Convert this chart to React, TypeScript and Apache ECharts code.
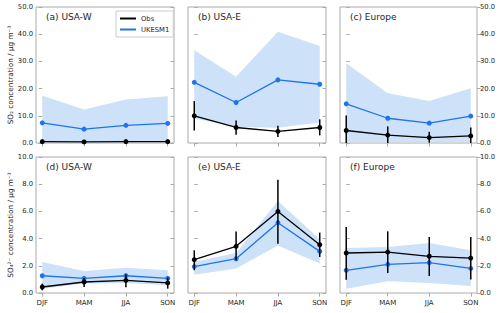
import React, { useEffect, useRef } from "react";
import * as echarts from "echarts";

const seasons = ["DJF", "MAM", "JJA", "SON"];
const panelTitles = ["(a) USA-W", "(b) USA-E", "(c) Europe", "(d) USA-W", "(e) USA-E", "(f) Europe"];
const so2Ticks = [0, 10, 20, 30, 40, 50];
const so4Ticks = [0, 2, 4, 6, 8, 10];

// SO2 (top row)
const so2ObsUSAW = [0.5, 0.4, 0.5, 0.5];
const so2ObsLoUSAW = [0.3, 0.2, 0.3, 0.3];
const so2ObsHiUSAW = [0.8, 0.6, 0.8, 0.7];
const so2ModUSAW = [7.4, 5.1, 6.5, 7.2];
const so2ModLoUSAW = [0.3, 0.2, 0.3, 0.3];
const so2ModHiUSAW = [17.4, 12.3, 16.0, 17.2];

const so2ObsUSAE = [10.0, 5.7, 4.3, 5.7];
const so2ObsLoUSAE = [4.6, 3.0, 2.2, 2.8];
const so2ObsHiUSAE = [15.4, 8.3, 6.3, 8.7];
const so2ModUSAE = [22.3, 14.9, 23.2, 21.6];
const so2ModLoUSAE = [9.0, 6.0, 5.6, 7.5];
const so2ModHiUSAE = [34.1, 24.4, 40.9, 35.7];

const so2ObsEU = [4.6, 2.9, 2.0, 2.6];
const so2ObsLoEU = [0, 0, 0.1, 0];
const so2ObsHiEU = [10.1, 6.1, 4.1, 5.7];
const so2ModEU = [14.4, 9.1, 7.3, 9.9];
const so2ModLoEU = [0.3, 0.3, 0.3, 0.3];
const so2ModHiEU = [29.3, 18.3, 15.4, 20.1];

// SO4 (bottom row)
const so4ObsUSAW = [0.44, 0.81, 0.93, 0.74];
const so4ObsLoUSAW = [0.2, 0.44, 0.42, 0.32];
const so4ObsHiUSAW = [0.69, 1.1, 1.37, 1.13];
const so4ModUSAW = [1.27, 1.08, 1.27, 1.08];
const so4ModLoUSAW = [0.32, 0.69, 0.74, 0.57];
const so4ModHiUSAW = [2.28, 1.62, 1.85, 1.67];

const so4ObsUSAE = [2.45, 3.43, 6.0, 3.55];
const so4ObsLoUSAE = [1.67, 2.4, 3.63, 2.65];
const so4ObsHiUSAE = [3.14, 4.53, 8.33, 4.44];
const so4ModUSAE = [1.94, 2.52, 5.17, 3.06];
const so4ModLoUSAE = [1.35, 1.8, 3.5, 2.16];
const so4ModHiUSAE = [2.3, 2.95, 6.76, 3.95];

const so4ObsEU = [2.94, 3.01, 2.7, 2.57];
const so4ObsLoEU = [0.98, 1.47, 1.25, 1.0];
const so4ObsHiEU = [4.85, 4.53, 4.12, 4.12];
const so4ModEU = [1.67, 2.1, 2.23, 1.81];
const so4ModLoEU = [0.32, 0.86, 0.74, 0.52];
const so4ModHiEU = [3.3, 3.38, 3.68, 3.14];

const BLUE = "#1f74ec";
const BAND = "#cde1f8";
const FRAME = "#aaaaaa";
const TEXT = "#262626";
const FONT = "DejaVu Sans";

export default function App() {
  const ref = useRef<HTMLDivElement>(null);
  useEffect(() => {
    if (!ref.current) return;
    const chart = echarts.init(ref.current, null, { renderer: "svg" });

    const panels = [
      { obs: so2ObsUSAW, obsLo: so2ObsLoUSAW, obsHi: so2ObsHiUSAW, mod: so2ModUSAW, modLo: so2ModLoUSAW, modHi: so2ModHiUSAW },
      { obs: so2ObsUSAE, obsLo: so2ObsLoUSAE, obsHi: so2ObsHiUSAE, mod: so2ModUSAE, modLo: so2ModLoUSAE, modHi: so2ModHiUSAE },
      { obs: so2ObsEU, obsLo: so2ObsLoEU, obsHi: so2ObsHiEU, mod: so2ModEU, modLo: so2ModLoEU, modHi: so2ModHiEU },
      { obs: so4ObsUSAW, obsLo: so4ObsLoUSAW, obsHi: so4ObsHiUSAW, mod: so4ModUSAW, modLo: so4ModLoUSAW, modHi: so4ModHiUSAW },
      { obs: so4ObsUSAE, obsLo: so4ObsLoUSAE, obsHi: so4ObsHiUSAE, mod: so4ModUSAE, modLo: so4ModLoUSAE, modHi: so4ModHiUSAE },
      { obs: so4ObsEU, obsLo: so4ObsLoEU, obsHi: so4ObsHiEU, mod: so4ModEU, modLo: so4ModLoEU, modHi: so4ModHiEU },
    ];

    const lefts = [36, 188, 340];
    const widths = [138, 138, 137];
    const tops = [7, 157];
    const H = 136;

    const grids: any[] = [];
    const xAxes: any[] = [];
    const yAxes: any[] = [];
    const series: any[] = [];
    const titles: any[] = [];

    panels.forEach((p, i) => {
      const row = Math.floor(i / 3);
      const col = i % 3;
      const ticks = row === 0 ? so2Ticks : so4Ticks;
      grids.push({
        left: lefts[col], top: tops[row], width: widths[col], height: H,
        show: true, borderColor: FRAME, borderWidth: 1, backgroundColor: "transparent",
      });
      xAxes.push({
        type: "value", gridIndex: i, min: -0.15, max: 3.15,
        axisLine: { show: false }, splitLine: { show: false },
        axisTick: { show: true, customValues: [0, 1, 2, 3], length: 3.5, lineStyle: { color: FRAME } },
        axisLabel: {
          show: row === 1, customValues: [0, 1, 2, 3], margin: 6,
          formatter: (v: number) => seasons[Math.round(v)] ?? "",
          fontSize: 7, color: TEXT, fontFamily: FONT,
        },
      });
      const yBase = {
        type: "value", gridIndex: i, min: ticks[0], max: ticks[ticks.length - 1],
        interval: ticks[1] - ticks[0],
        axisLine: { show: false }, splitLine: { show: false },
      };
      yAxes.push({
        ...yBase, position: "left",
        axisTick: { show: true, inside: col !== 0, length: 3.5, lineStyle: { color: FRAME } },
        axisLabel: { show: col === 0, formatter: (v: number) => v.toFixed(1), fontSize: 6.8, color: TEXT, fontFamily: FONT, margin: 3 },
        name: col === 0 ? (row === 0 ? "SO₂ concentration / μg m⁻³" : "SO₄²⁻ concentration / μg m⁻³") : "",
        nameLocation: "middle", nameGap: 22, nameRotate: 90,
        nameTextStyle: { fontSize: 7.3, color: TEXT, fontFamily: FONT },
      });
      yAxes.push({
        ...yBase, position: "right",
        axisTick: { show: true, inside: col !== 2, length: 3.5, lineStyle: { color: FRAME } },
        axisLabel: { show: col === 2, formatter: (v: number) => v.toFixed(1), fontSize: 6.8, color: TEXT, fontFamily: FONT, margin: 3 },
      });
      titles.push({
        text: panelTitles[i], left: lefts[col] + 10, top: tops[row] + 5,
        textStyle: { fontSize: 9, fontWeight: "normal", color: TEXT, fontFamily: FONT },
        padding: 0,
      });

      const lo = p.modLo, hi = p.modHi;
      series.push({
        type: "custom", xAxisIndex: i, yAxisIndex: 2 * i, z: 1, silent: true,
        data: seasons.map((_, k) => [k, lo[k], hi[k]]),
        encode: { x: 0, y: [1, 2] },
        renderItem: (params: any, api: any) => {
          if (params.dataIndex !== 0) return null;
          const pts: number[][] = [];
          for (let k = 0; k < seasons.length; k++) pts.push(api.coord([k, hi[k]]));
          for (let k = seasons.length - 1; k >= 0; k--) pts.push(api.coord([k, lo[k]]));
          return { type: "polygon", shape: { points: pts }, style: { fill: BAND } };
        },
      });
      series.push({
        type: "line", name: "UKESM1", xAxisIndex: i, yAxisIndex: 2 * i, z: 3,
        data: p.mod.map((v, k) => [k, v]),
        symbol: "circle", symbolSize: 5,
        lineStyle: { color: BLUE, width: 1.3 }, itemStyle: { color: BLUE },
      });
      series.push({
        type: "custom", xAxisIndex: i, yAxisIndex: 2 * i, z: 4, silent: true,
        data: seasons.map((_, k) => [k, p.obsLo[k], p.obsHi[k]]),
        encode: { x: 0, y: [1, 2] },
        renderItem: (params: any, api: any) => {
          const a = api.coord([api.value(0), api.value(1)]);
          const b = api.coord([api.value(0), api.value(2)]);
          return {
            type: "line", shape: { x1: a[0], y1: a[1], x2: b[0], y2: b[1] },
            style: { stroke: "#000", lineWidth: 1.5 },
          };
        },
      });
      series.push({
        type: "line", name: "Obs", xAxisIndex: i, yAxisIndex: 2 * i, z: 5,
        data: p.obs.map((v, k) => [k, v]),
        symbol: "circle", symbolSize: 5,
        lineStyle: { color: "#000", width: 1.3 }, itemStyle: { color: "#000" },
      });
    });

    chart.setOption({
      animation: false,
      backgroundColor: "#fff",
      title: titles,
      legend: {
        data: ["Obs", "UKESM1"], orient: "vertical", left: 116, top: 11,
        icon: "rect", itemWidth: 16, itemHeight: 2, itemGap: 4,
        padding: [4, 4, 4, 4], borderColor: "#cccccc", borderWidth: 1,
        textStyle: { fontSize: 6.8, color: TEXT, fontFamily: FONT },
        backgroundColor: "#fff",
      },
      grid: grids,
      xAxis: xAxes,
      yAxis: yAxes,
      series,
    });
    return () => chart.dispose();
  }, []);
  return <div ref={ref} style={{ width: 500, height: 313, position: "absolute", left: 0, top: 0 }} />;
}
